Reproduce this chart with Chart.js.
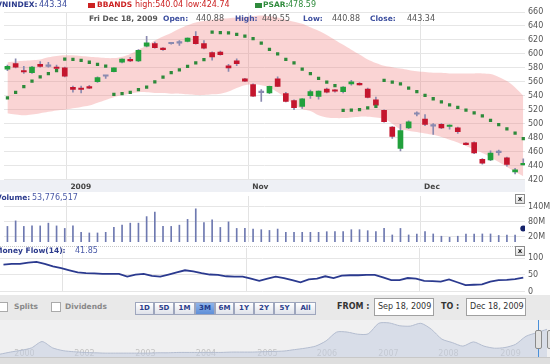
<!DOCTYPE html>
<html>
<head>
<meta charset="utf-8">
<script src="https://cdn.jsdelivr.net/npm/chart.js@4.4.1/dist/chart.umd.min.js"></script>
<style>
body{margin:0;width:550px;height:364px;overflow:hidden;background:#fff;position:relative;font-family:"DejaVu Sans",Verdana,sans-serif}
canvas{position:absolute;left:0}
.t{position:absolute;white-space:nowrap;line-height:10px}
.b{font-weight:bold;font-size:7.5px}
.v{font-size:8px}
.navy{color:#2b3a8c}
.sq{position:absolute;width:7px;height:5px}
.xbox{position:absolute;left:515px;width:8px;height:8px;border:1px solid #8a8a8a;background:linear-gradient(#fff,#ddd);font:bold 7px "DejaVu Sans";line-height:8px;text-align:center;color:#222}
.btn{position:absolute;top:302px;height:11px;border:1px solid #9ea6bd;background:linear-gradient(#fff,#dfe2ea);font:bold 7px "DejaVu Sans";line-height:11px;text-align:center;color:#2b3e8c;box-sizing:content-box}
.btn.on{background:linear-gradient(#8fb4ea,#5f8fd8);color:#1f3a8a}
.inp{position:absolute;top:298px;width:58px;height:16px;border:1px solid #a0a0a0;background:#fff;font:8px "DejaVu Sans";line-height:16px;color:#333;text-indent:3px}
.chk{position:absolute;top:302px;width:8px;height:8px;border:1px solid #aaa;background:#fff}
</style>
</head>
<body>
<!-- panel backgrounds -->
<div style="position:absolute;left:0;top:180px;width:525px;height:12px;background:#eef0f5"></div>
<div style="position:absolute;left:0;top:246px;width:525px;border-top:1px dotted #c8c8c8"></div>
<div style="position:absolute;left:0;top:295px;width:550px;height:25px;background:#e9e9e9"></div>
<div style="position:absolute;left:0;top:320px;width:550px;height:37px;background:#f0f0f1"></div>
<div style="position:absolute;left:0;top:357px;width:550px;height:7px;background:#dedede;border-top:1px solid #c8c8c8"></div>

<canvas id="main" width="550" height="192" style="top:0"></canvas>
<canvas id="vol" width="550" height="54" style="top:192px"></canvas>
<canvas id="mf" width="550" height="50" style="top:246px"></canvas>
<canvas id="nav" width="550" height="38" style="top:320px"></canvas>

<!-- header line 1 -->
<span class="t b navy" style="left:-10px;top:0">^VNINDEX:</span>
<span class="t v" style="left:39px;top:0;color:#3b4c9e">443.34</span>
<span class="sq" style="left:88px;top:3px;background:#cc2222"></span>
<span class="t b" style="left:97px;top:0;color:#cc2222">BBANDS</span>
<span class="t v" style="left:135px;top:0;color:#cc2222">high:540.04 low:424.74</span>
<span class="sq" style="left:255px;top:3px;background:#2f8b3c"></span>
<span class="t b" style="left:263px;top:0;color:#2f8b3c">PSAR:</span>
<span class="t v" style="left:288px;top:0;color:#2f8b3c">478.59</span>
<!-- header line 2 -->
<span class="t b" style="left:89px;top:13.5px;color:#555">Fri Dec 18, 2009</span>
<span class="t b" style="left:163px;top:13.5px;color:#3d4f9f">Open:</span>
<span class="t v" style="left:196px;top:13.5px;color:#555">440.88</span>
<span class="t b" style="left:235px;top:13.5px;color:#3d4f9f">High:</span>
<span class="t v" style="left:262px;top:13.5px;color:#555">449.55</span>
<span class="t b" style="left:303px;top:13.5px;color:#3d4f9f">Low:</span>
<span class="t v" style="left:332px;top:13.5px;color:#555">440.88</span>
<span class="t b" style="left:370px;top:13.5px;color:#3d4f9f">Close:</span>
<span class="t v" style="left:407px;top:13.5px;color:#555">443.34</span>

<!-- volume / money flow headers -->
<span class="t b navy" style="left:-4px;top:193px">Volume:</span>
<span class="t v" style="left:32px;top:193px;color:#4a5aa8">53,776,517</span>
<div class="xbox" style="top:194px">x</div>
<span class="t b navy" style="left:-5px;top:245.5px">Money Flow(14):</span>
<span class="t v" style="left:75px;top:245.5px;color:#4a5aa8">41.85</span>
<div class="xbox" style="top:246px">x</div>

<!-- controls -->
<div class="chk" style="left:-2px"></div>
<span class="t b" style="left:14px;top:302px;color:#888">Splits</span>
<div class="chk" style="left:51px"></div>
<span class="t b" style="left:65px;top:302px;color:#888">Dividends</span>
<div id="btns"></div>
<span class="t b" style="left:337px;top:302px;color:#333;font-size:8px">FROM :</span>
<div class="inp" style="left:374px">Sep 18, 2009</div>
<span class="t b" style="left:441px;top:302px;color:#333;font-size:8px">TO :</span>
<div class="inp" style="left:466px">Dec 18, 2009</div>

<!-- navigator handle -->
<div style="position:absolute;left:538px;top:320px;width:1px;height:37px;background:#4a90d9"></div>
<div style="position:absolute;left:535px;top:330px;width:5px;height:17px;background:#e2e2e2;border:1px solid #8a8a8a;border-radius:2px"></div>
<div style="position:absolute;left:547px;top:330px;width:5px;height:17px;background:#e2e2e2;border:1px solid #8a8a8a;border-radius:2px"></div>

<script>
// x positions of month ticks (in trading-day index units) and their labels
const monthPos = [7.2, 29.4, 50.4];
const monthText = ['2009', 'Nov', 'Dec'];

// daily OHLC, Sep 18 - Dec 18 2009
const openP  = [578,586,576,573,585,582,581,580,552,551,553,560,568,574.5,588,592,590,611,614.6,608,614.5,615.5,618,625,614.6,601.7,602.6,583,590,564.4,556,545,544,564.4,543,533,524.7,540,539,549.5,547.5,545.8,557,557.5,549.5,534,519,495,464.5,494,513.5,506.5,497,499,496,494,472,473,449,448,458.5,451,431,440.88];
const highP  = [584,593,582,582,589,588,584,581,554,554,555,567,568.5,580,593,595,606,625,617,609,616,619,623,632,619,603,604,585,593,565,557,549,554,567,545,534,536,548,547,551,549,553,562,559,551,538,520,496,499,504,517,513,500,500,498.5,495,473,474,450,461,462,452,436,449.55];
const lowP   = [576,580,572,572,581,581,576,567,545,544,550,559,565,574,587,589,589,610,608,605,614,612,617,614,607,591,598,575,583,560,539,532,543,553,531,520,522,536,535,544,545,544,555,555,537,526,502,479,461,493,511,497,484.5,493,492,486,469.5,457,442,447,455,439,428,440.88];
const closeP = [582,581,574,581,582,582.5,579,568,549,549,551,566,568.3,580,592.6,590,605,616,609,606,615.3,616,622.7,614.6,608,595.5,599,580,586,561,539.5,544.5,553.4,553.4,532,523,535.7,545.8,546.7,545,546.5,552.4,560,555.5,537.5,526.6,503,481.7,490,502.7,514.3,499,496.5,494,498,488.4,470,458,443.4,458,459,441.5,434,443.34];

// Bollinger bands and parabolic SAR
const bbUpper = [588,589,590,591,592,595,597,598,598,597,596,595,594,594,596,600,606,612,619,625,630,636,641,645,647,649,650,651,652,653,654,655,654,652,649,646,643,638,633,627,620,613,606,599,592,587,583,581,579,577,575,574,573,573,572,572,572,572,572,571,567,561,552,540.04];
const bbLower = [515,513,512,513,515,517,519,520,522,524,526,530,534,538,541,543,545,545,544,544,543,543,542,541,541,542,543,546,551,555,556,555,552,545,537,527,521,518,512,509,508,508,509,510,510,509,507,500,492,490,488,486,484,481,477,473,468,463,458,452,445,438,431,424.74];
const psar = [537,545,553,561,567,571.6,576,592.6,592,590.7,588,585,582.5,542,543,545,548.6,552.4,560,566.7,573,577,582,587,591.7,631,630.5,630,628,625.6,622,615.5,606.5,600,592,587,578,571.6,565,559.6,554.4,519,519.5,520,522.8,524.7,562,559.6,557,551,546,540.5,535.7,531.4,527,523.3,519.4,515.6,511,504.6,498.5,492.7,486.4,478.59];

// volume (millions) and money flow(14)
const volume = [62,84,62,64,64,75,64,54,64,38.5,36,36,38.5,58,67,75,75,101,119,62,62,67,90,132,77,88,58,80,54,54,51.5,49,46,51.5,38.5,38.5,38.5,38.5,38.5,41,41,41,49,49,45,41,54,28,54,28,32,41,32,23,19,23,32,32,32,32,26,28,28,53.78];
const moneyFlow = [80.5,82.5,82.5,86.7,88.8,82.5,75.2,70,63.7,57.4,55.3,54.3,53.2,53.2,53.2,44.8,51.1,53.2,46.9,44.8,51.1,57.4,63.7,60.5,55.3,51.1,50.1,45.9,44.8,44.8,38.6,32.3,38.6,44.8,40.7,34.4,28.1,36.5,38.6,45.9,40.7,48,49,49,50.1,50.1,42.7,34.4,34.4,40.7,38.6,32.3,31.2,30.2,36.5,28.1,19.7,20.7,21.8,30.2,34.4,35.4,37.5,41.85];

const priceTicks = [420,440,460,480,500,520,540,560,580,600,620,640,660];
const volTicks = [20, 80, 140];
const mfTicks = [0, 50, 100];

// navigator (whole history 2000 - 2009)
const navValues = [95,166,225,308,520,308,213,178,154,142,130,130,130,130,130,142,142,154,154,154,154,154,166,166,166,178,189,201,249,296,367,544,840,840,769,780,1136,1148,1053,1041,1136,935,603,485,367,509,367,296,320,426,698,816,935];
const navYears = ['2000','2002','2003','2004','2005','2006','2007','2008','2009'];
const navYearPos = [2.33, 8.03, 13.83, 19.58, 25.43, 31.08, 36.93, 42.63, 48.53];

const rangeBtns = ['1D','5D','1M','3M','6M','1Y','2Y','5Y','All'];
const rangeLeft = [135,154,174,195,215,234,254,274,295];

const X_MIN = -0.42, X_MAX = 63.21;
const FONT = 'DejaVu Sans';

var btnBox = document.getElementById('btns');
rangeBtns.forEach(function(t, i) {
  var d = document.createElement('div');
  d.className = 'btn' + (t == '3M' ? ' on' : '');
  d.style.left = rangeLeft[i] + 'px';
  d.style.width = ((rangeLeft[i+1] || 316) - rangeLeft[i] - 2) + 'px';
  d.textContent = t;
  btnBox.appendChild(d);
});

Chart.defaults.animation = false;
Chart.defaults.plugins.legend.display = false;
Chart.defaults.plugins.tooltip.enabled = false;
Chart.defaults.font.family = FONT;

function xScale(showLabels) {
  return {
    type: 'linear', min: X_MIN, max: X_MAX, offset: false,
    afterBuildTicks: function(s) { s.ticks = monthPos.map(v => ({ value: v })); },
    afterFit: function(s) { s.height = showLabels ? 12.5 : 0; s.paddingLeft = 0; s.paddingRight = 0; },
    grid: { color: '#e3e3e3', drawTicks: false, offset: false },
    border: { display: false },
    ticks: {
      display: showLabels, align: 'start', labelOffset: 4, padding: 3,
      color: '#444', font: { size: 7.5, weight: 'bold' },
      callback: (v, i) => monthText[i]
    }
  };
}

function yScale(min, max, tickVals, fmt) {
  return {
    position: 'right', min: min, max: max,
    afterBuildTicks: function(s) { s.ticks = tickVals.map(v => ({ value: v })); },
    afterFit: function(s) { s.width = 25; s.paddingTop = 0; s.paddingBottom = 0; },
    grid: { color: '#e6e6e6', drawTicks: false },
    border: { display: false },
    ticks: { padding: 3, color: '#555', font: { size: 8 }, callback: fmt }
  };
}

const idx = openP.map((v, i) => i);
const bodyColor = idx.map(i => {
  var d = closeP[i] - openP[i];
  return d > 0.9 ? '#22a03c' : (d < -0.9 ? '#c4162e' : '#8a8ab0');
});

new Chart(document.getElementById('main'), {
  type: 'bar',
  data: {
    datasets: [
      { type: 'line', data: idx.map(i => ({ x: i, y: bbUpper[i] })), fill: '+1',
        backgroundColor: 'rgba(240,120,120,0.32)', borderWidth: 0, pointRadius: 0, tension: 0.4, order: 10 },
      { type: 'line', data: idx.map(i => ({ x: i, y: bbLower[i] })), fill: false,
        borderWidth: 0, pointRadius: 0, tension: 0.4, order: 11 },
      { type: 'line', data: idx.map(i => ({ x: i, y: psar[i] })), showLine: false,
        pointStyle: 'rect', pointRadius: 2.3, pointBackgroundColor: '#2c8a3a', pointBorderWidth: 0, order: 0 },
      { data: idx.map(i => ({ x: i, y: [lowP[i], highP[i]] })), backgroundColor: '#8a8ab0',
        barThickness: 1, grouped: false, order: 2 },
      { data: idx.map(i => ({ x: i, y: [openP[i], closeP[i]] })), backgroundColor: bodyColor,
        barThickness: 5, minBarLength: 1.5, grouped: false, order: 1 }
    ]
  },
  options: {
    responsive: false,
    devicePixelRatio: 1,
    layout: { padding: { top: 12, left: 0, right: 0, bottom: 0 } },
    scales: {
      x: xScale(true),
      y: yScale(420, 660, priceTicks, v => v)
    }
  }
});

new Chart(document.getElementById('vol'), {
  type: 'bar',
  data: {
    datasets: [
      { type: 'line', data: [{ x: 63, y: volume[63] }], showLine: false,
        pointRadius: 3, pointBackgroundColor: '#15226a', pointBorderWidth: 0, order: 0 },
      { data: idx.slice(0, 63).map(i => ({ x: i, y: volume[i] })), backgroundColor: '#6e79b0',
        barThickness: 1, grouped: false, order: 1 }
    ]
  },
  options: {
    responsive: false,
    devicePixelRatio: 1,
    layout: { padding: { top: 3, bottom: 1.5 } },
    scales: {
      x: xScale(false),
      y: yScale(0, 183, volTicks, v => v + 'M')
    }
  }
});

new Chart(document.getElementById('mf'), {
  type: 'line',
  data: {
    datasets: [
      { data: idx.map(i => ({ x: i, y: moneyFlow[i] })), borderColor: '#2b3a8f',
        borderWidth: 1.8, pointRadius: 0, tension: 0 }
    ]
  },
  options: {
    responsive: false,
    devicePixelRatio: 1,
    layout: { padding: { top: 2, bottom: 4.3 } },
    scales: {
      x: xScale(false),
      y: yScale(0, 130, mfTicks, v => v)
    }
  }
});

const navYearLabels = {
  id: 'navYearLabels',
  beforeDatasetsDraw: function(chart) {
    var ctx = chart.ctx, xs = chart.scales.x;
    ctx.save();
    ctx.font = '8px "DejaVu Sans"';
    ctx.fillStyle = '#c2c2c2';
    ctx.textAlign = 'center';
    ctx.textBaseline = 'middle';
    navYears.forEach(function(t, i) {
      ctx.fillText(t, xs.getPixelForValue(navYearPos[i]), 34);
    });
    ctx.restore();
  }
};

new Chart(document.getElementById('nav'), {
  type: 'line',
  data: {
    datasets: [
      { data: navValues.map((v, j) => ({ x: j, y: v })), fill: 'origin',
        backgroundColor: 'rgba(196,206,224,0.55)', borderColor: '#b3bccf', borderWidth: 1,
        pointRadius: 0, tension: 0.25 }
    ]
  },
  options: {
    responsive: false,
    devicePixelRatio: 1,
    layout: { padding: { top: 0, bottom: 1 } },
    scales: {
      x: { type: 'linear', min: 0, max: 52.28, display: false },
      y: { min: 0, max: 1247, display: false }
    }
  },
  plugins: [navYearLabels]
});
</script>
</body>
</html>
